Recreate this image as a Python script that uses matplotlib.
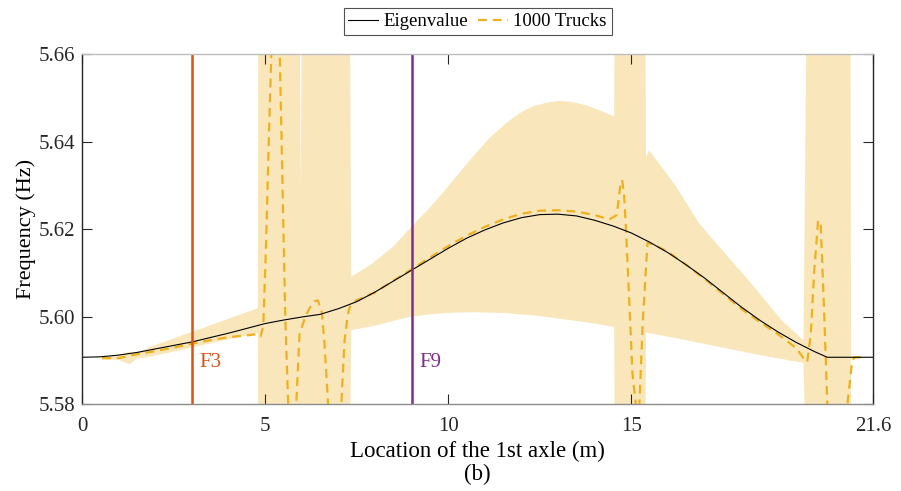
import numpy as np
import matplotlib
matplotlib.use("Agg")
import matplotlib.pyplot as plt
from matplotlib.lines import Line2D

plt.rcParams['font.family'] = ['Liberation Serif', 'DejaVu Serif']

# eigenvalue curve (black)
eig_x = [0, 0.5, 1, 1.5, 2, 2.5, 3, 3.5, 4, 4.5, 5, 5.5, 6, 6.5, 7, 7.5, 8, 8.5,
         9, 9.5, 10, 10.5, 11, 11.5, 12, 12.5, 13, 13.5, 14, 14.5, 15, 15.5, 16,
         16.5, 17, 17.5, 18, 18.5, 19, 19.5, 20, 20.35, 21, 21.6]
eig_y = [5.5907, 5.5908, 5.5912, 5.5918, 5.5926, 5.5934, 5.5942, 5.5952, 5.5962,
         5.5973, 5.5984, 5.5992, 5.5999, 5.6005, 5.6018, 5.6034, 5.6056, 5.6081,
         5.6106, 5.6131, 5.6156, 5.6179, 5.6198, 5.6214, 5.6226, 5.6233, 5.6234,
         5.6230, 5.6220, 5.6207, 5.6191, 5.6170, 5.6146, 5.6118, 5.6088, 5.6055,
         5.6022, 5.5992, 5.5965, 5.5941, 5.5920, 5.5907, 5.5907, 5.5907]

# mean of 1000 trucks (dashed)
truck_x = [0.55, 1.0, 1.5, 2.0, 2.5, 3.0, 3.5, 4.0, 4.5, 4.8, 4.88, 4.95, 5.02, 5.1,
           5.17, 5.25, 5.33, 5.4, 5.45, 5.5, 5.55, 5.63, 5.7, 5.78, 5.85, 5.94,
           6.1, 6.22, 6.35, 6.44, 6.55, 6.62, 6.67, 6.72, 6.8, 7.0, 7.08, 7.17,
           7.25, 7.31, 7.49, 8.0, 8.5, 9.0, 9.5, 10.0, 10.5, 11.0, 11.5, 12.0,
           12.5, 13.0, 13.5, 14.0, 14.4, 14.6, 14.7, 14.75, 14.8, 14.85, 14.95,
           15.03, 15.12, 15.17, 15.22, 15.31, 15.44, 15.6, 16.0, 16.5, 17.0, 17.5,
           18.0, 18.5, 19.0, 19.5, 19.7, 19.8, 19.9, 19.99, 20.1, 20.17, 20.26,
           20.35, 20.5, 20.8, 20.9, 21.03, 21.1, 21.3]
truck_y = [5.5905, 5.5905, 5.5914, 5.5921, 5.5929, 5.5938, 5.5946, 5.5953, 5.5957,
           5.5960, 5.5955, 5.5980, 5.6150, 5.6400, 5.6600, 5.6900, 5.6900, 5.6600,
           5.6400, 5.6200, 5.6000, 5.5800, 5.5600, 5.5600, 5.5800, 5.5960, 5.6000,
           5.6020, 5.6035, 5.6037, 5.6010, 5.5940, 5.5870, 5.5800, 5.5650, 5.5650,
           5.5800, 5.5946, 5.6000, 5.6022, 5.6037, 5.6055, 5.6082, 5.6108, 5.6135,
           5.6161, 5.6185, 5.6205, 5.6222, 5.6235, 5.6242, 5.6243, 5.6240, 5.6232,
           5.6222, 5.6232, 5.6300, 5.6312, 5.6280, 5.6205, 5.6022, 5.5870, 5.5800,
           5.5700, 5.5800, 5.5985, 5.6168, 5.6165, 5.6148, 5.6118, 5.6086, 5.6052,
           5.6018, 5.5988, 5.5960, 5.5928, 5.5905, 5.5896, 5.5960, 5.6100, 5.6220,
           5.6210, 5.6020, 5.5800, 5.5600, 5.5600, 5.5800, 5.5900, 5.5907, 5.5907]

# spread of the 1000 trucks (shaded band)
band_x = [0.55, 1.0, 1.3, 1.5, 1.85, 2.0, 2.5, 3.0, 3.5, 4.0, 4.5, 4.8, 4.82, 5.93,
          5.97, 6.03, 7.3, 7.35, 7.94, 8.5, 8.99, 9.4, 9.76, 10.2, 10.67, 11.1,
          11.58, 11.95, 12.3, 12.7, 13.04, 13.4, 13.76, 14.15, 14.53, 14.56, 15.37,
          15.4, 15.49, 16.2, 16.85, 17.5, 18.2, 19.1, 19.7, 19.82, 20.98, 21.0, 21.3]
band_lo = [5.5902, 5.5901, 5.5891, 5.5904, 5.5908, 5.5911, 5.5920, 5.5929, 5.5939,
           5.5948, 5.5957, 5.5962, 5.55, 5.55, 5.55, 5.55, 5.55, 5.5969, 5.5978,
           5.5990, 5.6000, 5.6004, 5.6007, 5.6009, 5.6010, 5.6009, 5.6008, 5.6005,
           5.6003, 5.5999, 5.5995, 5.5991, 5.5987, 5.5982, 5.5976, 5.55, 5.55,
           5.5963, 5.5962, 5.5951, 5.5940, 5.5929, 5.5917, 5.5903, 5.5894, 5.55,
           5.55, 5.5905, 5.5905]
band_hi = [5.5908, 5.5912, 5.5920, 5.5916, 5.5931, 5.5935, 5.5950, 5.5965, 5.5980,
           5.5995, 5.6010, 5.6019, 5.70, 5.70, 5.629, 5.70, 5.70, 5.6091, 5.6122,
           5.6160, 5.6205, 5.6240, 5.6274, 5.6318, 5.6365, 5.6406, 5.6442, 5.6465,
           5.6480, 5.6489, 5.6493, 5.6490, 5.6483, 5.6471, 5.6457, 5.70, 5.70,
           5.6365, 5.6380, 5.6300, 5.6213, 5.6150, 5.6083, 5.5992, 5.5946, 5.70,
           5.70, 5.5909, 5.5909]

x_ticks = [0, 5, 10, 15, 21.6]
x_ticklabels = ['0', '5', '10', '15', '21.6']
y_ticks = [5.58, 5.60, 5.62, 5.64, 5.66]

c_eig = 'black'
c_truck = '#EDB120'
c_f3 = '#D95319'
c_f9 = '#7E2F8E'

fig = plt.figure(figsize=(9.01, 4.91), dpi=100)
ax = fig.add_axes([0.091, 0.177, 0.878, 0.713])

ax.fill_between(band_x, band_lo, band_hi, color=c_truck, alpha=0.3, lw=0)
ax.plot(truck_x, truck_y, color=c_truck, lw=1.6, dashes=(4, 2.6))
ax.plot(eig_x, eig_y, color=c_eig, lw=0.8)

ax.axvline(3, color=c_f3, lw=1.8)
ax.axvline(9, color=c_f9, lw=1.8)
ax.text(3.2, 5.5896, 'F3', color=c_f3, fontsize=15, va='center')
ax.text(9.2, 5.5896, 'F9', color=c_f9, fontsize=15, va='center')

ax.set_xlim(0, 21.6)
ax.set_ylim(5.58, 5.66)
ax.set_xticks(x_ticks)
ax.set_xticklabels(x_ticklabels)
ax.set_yticks(y_ticks)
ax.set_yticklabels(['%.2f' % v for v in y_ticks])
ax.tick_params(direction='in', length=7, width=0.8, top=True, right=True,
               labelsize=15, colors='#262626', pad=5)
ax.tick_params(axis='x', pad=9)
ax.spines['left'].set_color('#262626')
ax.spines['right'].set_color('#262626')
ax.spines['top'].set_color('#BDBDBD')
ax.spines['bottom'].set_color('#8C8C8C')
for s in ax.spines.values():
    s.set_linewidth(1.0)

ax.set_xlabel('Location of the 1st axle (m)', fontsize=16.5, labelpad=4)
ax.set_ylabel('Frequency (Hz)', fontsize=16, labelpad=2)
fig.text(0.53, 0.033, '(b)', fontsize=16.5, ha='center', va='center')

handles = [Line2D([], [], color=c_eig, lw=0.8),
           Line2D([], [], color=c_truck, lw=1.6, dashes=(4, 2.6))]
leg = fig.legend(handles, ['Eigenvalue', '1000 Trucks'], loc='upper center',
                 bbox_to_anchor=(0.53, 0.983), ncol=2, fontsize=13.5, frameon=True,
                 fancybox=False, edgecolor='#262626', handlelength=1.6,
                 columnspacing=0.5, handletextpad=0.3, borderpad=0.25,
                 borderaxespad=0)
leg.get_frame().set_linewidth(0.8)

fig.savefig('out.png', dpi=100)
